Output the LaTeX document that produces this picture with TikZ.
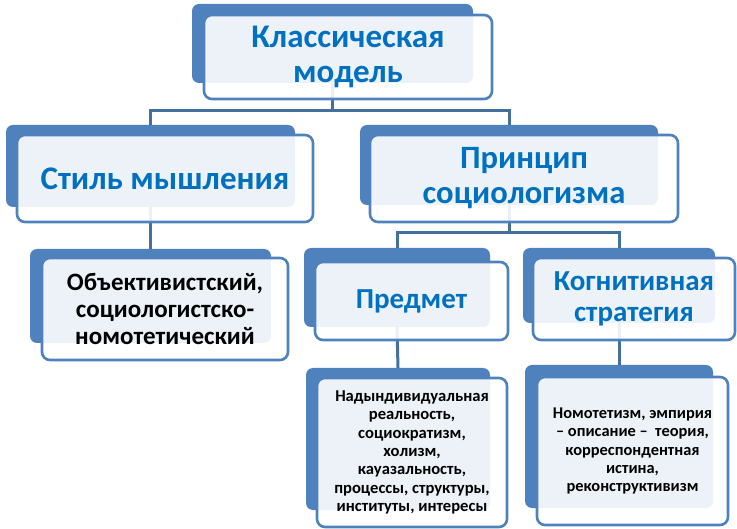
\documentclass[tikz,border=0pt]{standalone}
\usepackage{fontspec}
\setmainfont{Carlito}
\definecolor{backblue}{HTML}{4F81BD}
\definecolor{conblue}{HTML}{44709E}
\definecolor{txtblue}{HTML}{0070C0}
\begin{document}
\begin{tikzpicture}[x=1pt,y=-1pt,
  backbox/.style={draw=none,fill=backblue,rounded corners=7pt,inner sep=0pt},
  frontbox/.style={draw=backblue,line width=2.6pt,fill=white,fill opacity=0.9,text opacity=1,rounded corners=8pt,inner sep=0pt,align=center,font=\bfseries},
  conn/.style={draw=conblue,line width=3pt},
  head/.style={text=txtblue},
  body/.style={text=black}]
\useasboundingbox (0,0) rectangle (737,529);
% back boxes
\node[backbox,minimum width=281pt,minimum height=79pt] (b0) at (332.5,43.5) {};
\node[backbox,minimum width=289pt,minimum height=82pt] (b1) at (150.5,166) {};
\node[backbox,minimum width=298pt,minimum height=80pt] (b2) at (509,165) {};
\node[backbox,minimum width=241pt,minimum height=94pt] (b3) at (150.5,296) {};
\node[backbox,minimum width=186pt,minimum height=79pt] (b4) at (397,287.5) {};
\node[backbox,minimum width=192pt,minimum height=75pt] (b5) at (619,285.5) {};
\node[backbox,minimum width=184pt,minimum height=142pt] (b6) at (398,439) {};
\node[backbox,minimum width=188pt,minimum height=143pt] (b7) at (619,436.5) {};
% connectors
\coordinate (bus0) at (0,111);
\coordinate (bus2) at (0,233);
\draw[conn] (b0.south) -- (b0.south |- bus0) -| (b1.north);
\draw[conn] (b0.south |- bus0) -| (b2.north);
\draw[conn] (b1.south) -- (b3.north);
\draw[conn] (b2.south) -- (b2.south |- bus2) -| (b4.north);
\draw[conn] (b2.south |- bus2) -| (b5.north);
\draw[conn] (b4.south) -- (b6.north);
\draw[conn] (b5.south) -- (b7.north);
% front boxes
\node[frontbox,head,minimum width=288pt,minimum height=84pt,font=\bfseries\fontsize{33}{35}\selectfont] (f0) at (348,57) {Классическая\\модель};
\node[frontbox,head,minimum width=296pt,minimum height=87pt,font=\bfseries\fontsize{33}{36}\selectfont] (f1) at (165,178.5) {Стиль мышления};
\node[frontbox,head,minimum width=308pt,minimum height=87pt,font=\bfseries\fontsize{32.6}{35}\selectfont] (f2) at (524,178.5) {Принцип\\социологизма};
\node[frontbox,body,minimum width=246pt,minimum height=102pt,font=\bfseries\fontsize{25}{27}\selectfont] (f3) at (165,309) {Объективистский,\\социологистско-\\номотетический};
\node[frontbox,head,minimum width=193pt,minimum height=78pt,font=\bfseries\fontsize{29}{31}\selectfont] (f4) at (411.5,301) {Предмет};
\node[frontbox,head,minimum width=202pt,minimum height=82pt,font=\bfseries\fontsize{29}{31}\selectfont] (f5) at (634,299) {Когнитивная\\стратегия};
\node[frontbox,body,minimum width=190pt,minimum height=149pt,font=\bfseries\fontsize{16.6}{18.3}\selectfont] (f6) at (412,452.5) {Надындивидуальная\\реальность,\\социократизм,\\холизм,\\кауазальность,\\процессы, структуры,\\институты, интересы};
\node[frontbox,body,minimum width=191pt,minimum height=148pt,font=\bfseries\fontsize{16.4}{18.3}\selectfont] (f7) at (632.5,451) {Номотетизм, эмпирия\\– описание –\ \ теория,\\корреспондентная\\истина,\\реконструктивизм};
\end{tikzpicture}
\end{document}
